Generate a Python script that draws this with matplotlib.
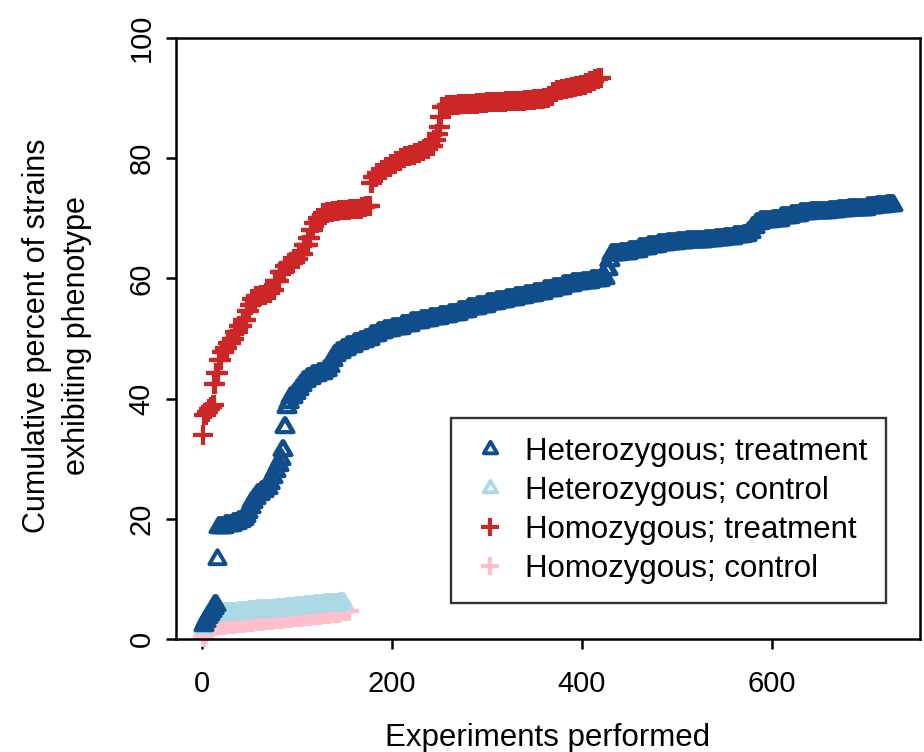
import numpy as np
import matplotlib
matplotlib.use("Agg")
import matplotlib.pyplot as plt
from matplotlib.path import Path

# ---------------- data (cumulative percent, stored as level / run-length pairs) ----------------
het_trt_levels = [2.3, 3.0, 3.6, 4.2, 4.7, 5.2, 5.6, 13.3, 18.7, 19.0,
                  19.3, 19.6, 20.0, 20.5, 21.2, 22.0, 22.8, 23.5, 24.2, 24.6,
                  25.2, 26.0, 27.0, 28.0, 29.0, 30.0, 31.4, 35.3, 38.6, 39.5,
                  40.3, 41.0, 41.6, 42.3, 43.0, 43.4, 44.0, 44.3, 44.8, 45.4,
                  46.5, 47.3, 47.8, 48.3, 48.8, 49.2, 49.6, 50.0, 50.5, 51.0,
                  51.4, 51.8, 52.3, 52.7, 53.1, 53.4, 53.7, 54.0, 54.5, 55.0,
                  55.4, 55.9, 56.2, 56.5, 56.9, 57.2, 57.6, 58.0, 58.4, 58.9,
                  59.2, 59.4, 59.7, 60.0, 61.5, 63.0, 64.0, 64.3, 64.6, 65.0,
                  65.4, 65.7, 65.9, 66.1, 66.2, 66.3, 66.4, 66.5, 66.7, 67.0,
                  67.3, 67.8, 68.5, 69.2, 69.5, 69.8, 70.2, 70.5, 70.8, 71.0,
                  71.1, 71.2, 71.4, 71.5, 71.6, 71.8, 72.0, 72.2]
het_trt_runs = [2, 2, 2, 2, 2, 2, 3, 1, 7, 8,
                6, 4, 3, 2, 2, 3, 3, 3, 4, 4,
                4, 3, 3, 3, 3, 2, 2, 2, 2, 3,
                4, 3, 3, 3, 4, 6, 6, 6, 5, 3,
                3, 3, 5, 6, 7, 6, 6, 6, 7, 7,
                8, 10, 10, 10, 10, 10, 10, 10, 10, 10,
                10, 10, 10, 10, 10, 10, 10, 10, 10, 10,
                10, 10, 10, 5, 3, 3, 9, 10, 10, 10,
                10, 10, 10, 10, 10, 10, 10, 10, 10, 10,
                5, 4, 4, 5, 12, 10, 10, 10, 10, 10,
                10, 10, 10, 10, 10, 10, 10, 9]

het_ctl_levels = [2.0, 2.6, 3.1, 3.5, 3.8, 4.0, 4.2, 4.3, 4.4, 4.5,
                  4.7, 4.8, 4.9, 5.0, 5.2, 5.3, 5.5, 5.6, 5.8, 5.9, 6.0]
het_ctl_runs = [1, 1, 1, 2, 3, 4, 7, 8, 10, 10,
                10, 10, 10, 10, 10, 10, 10, 10, 10, 6, 5]

hom_trt_levels = [34.0, 37.3, 37.8, 38.2, 38.6, 39.0, 42.5, 44.3, 46.5, 47.8,
                  48.5, 49.3, 50.0, 51.0, 52.0, 53.0, 54.5, 55.5, 56.5, 57.0,
                  57.2, 57.5, 58.0, 59.5, 61.0, 62.0, 62.5, 63.2, 64.0, 65.5,
                  66.8, 68.0, 69.2, 70.0, 70.8, 71.0, 71.2, 71.3, 71.4, 71.5,
                  71.6, 71.8, 72.0, 75.8, 76.8, 77.5, 78.0, 78.5, 79.0, 79.5,
                  80.0, 80.3, 80.5, 80.8, 81.2, 81.5, 82.0, 83.0, 84.0, 85.2,
                  86.8, 88.5, 88.8, 88.9, 89.0, 89.1, 89.2, 89.3, 89.4, 89.5,
                  89.6, 89.7, 89.8, 90.0, 90.4, 91.0, 91.3, 91.5, 91.7, 91.8,
                  92.0, 92.2, 92.5, 92.8, 93.1, 93.3]
hom_trt_runs = [1, 3, 2, 2, 2, 2, 2, 3, 3, 3,
                3, 4, 4, 4, 4, 4, 3, 3, 4, 5,
                5, 5, 5, 5, 5, 5, 5, 5, 5, 5,
                3, 3, 4, 5, 5, 6, 6, 6, 6, 6,
                6, 5, 5, 2, 4, 5, 5, 5, 5, 5,
                5, 5, 5, 5, 5, 5, 5, 3, 2, 2,
                2, 5, 6, 6, 10, 10, 10, 10, 10, 10,
                10, 10, 10, 5, 4, 5, 5, 5, 5, 5,
                5, 5, 5, 5, 4, 3]

hom_ctl_levels = [0.3, 0.9, 1.4, 1.8, 2.1, 2.3, 2.5, 2.7, 2.9, 3.0,
                  3.2, 3.4, 3.5, 3.7, 3.9, 4.0, 4.2, 4.4, 4.6]
hom_ctl_runs = [2, 2, 2, 3, 5, 10, 10, 10, 10, 10,
                10, 10, 10, 10, 10, 10, 10, 10, 11]

labels = ["Heterozygous; treatment", "Heterozygous; control",
          "Homozygous; treatment", "Homozygous; control"]
colors = ["#104E8B", "#ADD8E6", "#CD2626", "#FFC0CB"]

x_ticks = [0, 200, 400, 600]
y_ticks = [0, 20, 40, 60, 80, 100]


def expand(levels, runs):
    y = np.repeat(np.asarray(levels, dtype=float), runs)
    x = np.arange(1, len(y) + 1)
    return x, y


FONT = ["Liberation Sans", "DejaVu Sans"]
plt.rcParams["font.family"] = FONT

fig = plt.figure(figsize=(9.24, 7.52), dpi=100)
ax = fig.add_axes([176 / 924, 1 - 639 / 752, 744 / 924, 601 / 752])

tri = Path.unit_regular_polygon(3)
mk = dict(linestyle="none", markerfacecolor="none", clip_on=False)
tri_kw = dict(marker=tri, markersize=13.5, markeredgewidth=2.8)
plus_kw = dict(marker="+", markersize=15, markeredgewidth=3.0)

series = {}
x, y = expand(hom_ctl_levels, hom_ctl_runs)
series[3], = ax.plot(x, y, color=colors[3], label=labels[3], **plus_kw, **mk)
x, y = expand(het_ctl_levels, het_ctl_runs)
series[1], = ax.plot(x, y, color=colors[1], label=labels[1], **tri_kw, **mk)
x, y = expand(hom_trt_levels, hom_trt_runs)
series[2], = ax.plot(x, y, color=colors[2], label=labels[2], **plus_kw, **mk)
x, y = expand(het_trt_levels, het_trt_runs)
series[0], = ax.plot(x, y, color=colors[0], label=labels[0], **tri_kw, **mk)

ax.set_xlim(-27.5, 756)
ax.set_ylim(0, 100)
ax.set_xticks(x_ticks)
ax.set_yticks(y_ticks)
for sp in ax.spines.values():
    sp.set_linewidth(1.8)
    sp.set_color("black")
ax.tick_params(axis="both", direction="out", length=7.5, width=1.8,
               labelsize=21, colors="black")
ax.tick_params(axis="x", pad=14.5)
ax.tick_params(axis="y", pad=7)
for lab in ax.get_yticklabels():
    lab.set_rotation(90)
    lab.set_va("center")
    lab.set_ha("right")

fig.text(57 / 924, 1 - 336 / 752, "Cumulative percent of strains\nexhibiting phenotype",
         rotation=90, ha="center", va="center", multialignment="center",
         fontsize=22, linespacing=1.45)
fig.text(548 / 924, 1 - 738 / 752, "Experiments performed",
         ha="center", va="center", fontsize=22.5)

leg = ax.legend(handles=[series[0], series[1], series[2], series[3]],
                loc="lower right", bbox_to_anchor=(0.954, 0.06), borderaxespad=0,
                fontsize=22.5, frameon=True, fancybox=False, edgecolor="black",
                borderpad=0.6, handlelength=1.3, handletextpad=0.47,
                labelspacing=0.29, markerscale=0.82)
leg.get_frame().set_linewidth(1.7)

fig.savefig("out.png", dpi=100)
